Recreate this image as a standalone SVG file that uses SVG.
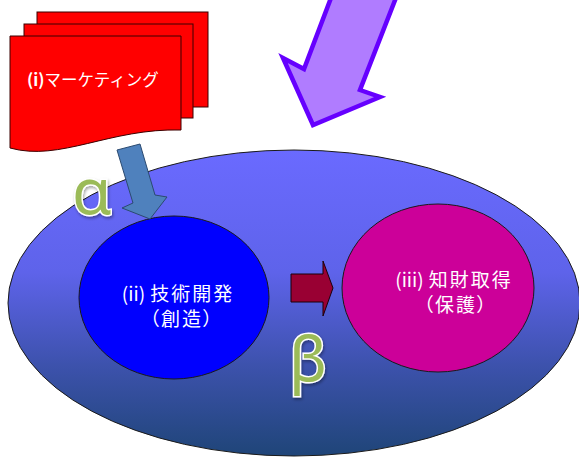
<svg xmlns="http://www.w3.org/2000/svg" width="579" height="457" viewBox="0 0 579 457">
<defs>
<linearGradient id="bigGrad" x1="0" y1="0" x2="0" y2="1">
<stop offset="0" stop-color="#6a6aff"/>
<stop offset="0.4" stop-color="#5e63ea"/>
<stop offset="0.7" stop-color="#3d52ad"/>
<stop offset="1" stop-color="#1f4578"/>
</linearGradient>
<filter id="glow" x="-30%" y="-30%" width="160%" height="160%">
<feDropShadow dx="1" dy="2" stdDeviation="1.5" flood-color="#000" flood-opacity="0.35"/>
</filter>
</defs>
<style>
.lbl{font-family:"Noto Sans CJK JP","Noto Sans",sans-serif;fill:#fff;font-size:19px;letter-spacing:2px;text-anchor:middle;font-feature-settings:"palt"}
.nar{letter-spacing:0px}
.greek{font-family:"Noto Sans","DejaVu Sans",sans-serif;fill:#9bbb59;stroke:#fff;stroke-width:3;paint-order:stroke fill;filter:url(#glow)}
.edge{stroke:#1a1a1a;stroke-width:1}
</style>
<g id="field">
<ellipse cx="294" cy="303" rx="286" ry="153" fill="url(#bigGrad)" class="edge"/>
</g>
<g id="marketing">
<rect x="37" y="12" width="171" height="95" fill="#ff0000" stroke="#3a0000" stroke-width="1"/>
<rect x="24" y="24" width="169" height="94" fill="#ff0000" stroke="#3a0000" stroke-width="1"/>
<path d="M10,36 H181 V130 C110,128 60,162 10,148 Z" fill="#ff0000" stroke="#3a0000" stroke-width="1"/>
<text x="27" y="86" font-family="'Noto Sans CJK JP','Noto Sans',sans-serif" font-size="16.5" fill="#fff"><tspan font-weight="bold">(i)</tspan>マーケティング</text>
</g>
<g id="tech">
<ellipse cx="174" cy="297.5" rx="95" ry="81.5" fill="#0000ff" class="edge"/>
<text class="lbl" x="178" y="301"><tspan class="nar">(ii)</tspan><tspan dx="5">技術開発</tspan></text>
<text class="lbl" x="182" y="326">（創造）</text>
</g>
<g id="ip">
<ellipse cx="438" cy="288" rx="96" ry="84" fill="#cc0099" class="edge"/>
<text class="lbl" x="454" y="287"><tspan class="nar">(iii)</tspan><tspan dx="5">知財取得</tspan></text>
<text class="lbl" x="456" y="312">（保護）</text>
</g>
<g id="connectors">
<path d="M334,-10 L304,69 L283,58 L313,125 L380,97 L360,90 L399,-10 Z" fill="#b07cff" stroke="#6600ff" stroke-width="4.5" stroke-linejoin="miter"/>
<path d="M117,150 L140,144 L155,195 L167,197 L150,219 L122,208 L133,203 Z" fill="#4f81bd" stroke="#2b4a70" stroke-width="1"/>
<path d="M291,274 H323 V261 L333,288 L323,316 V302 H291 Z" fill="#990033" stroke="#1a0008" stroke-width="1"/>
</g>
<g id="alpha">
<text class="greek" x="72" y="214" font-size="64">α</text>
</g>
<g id="beta">
<text class="greek" x="289" y="381" font-size="62">β</text>
</g>
</svg>
